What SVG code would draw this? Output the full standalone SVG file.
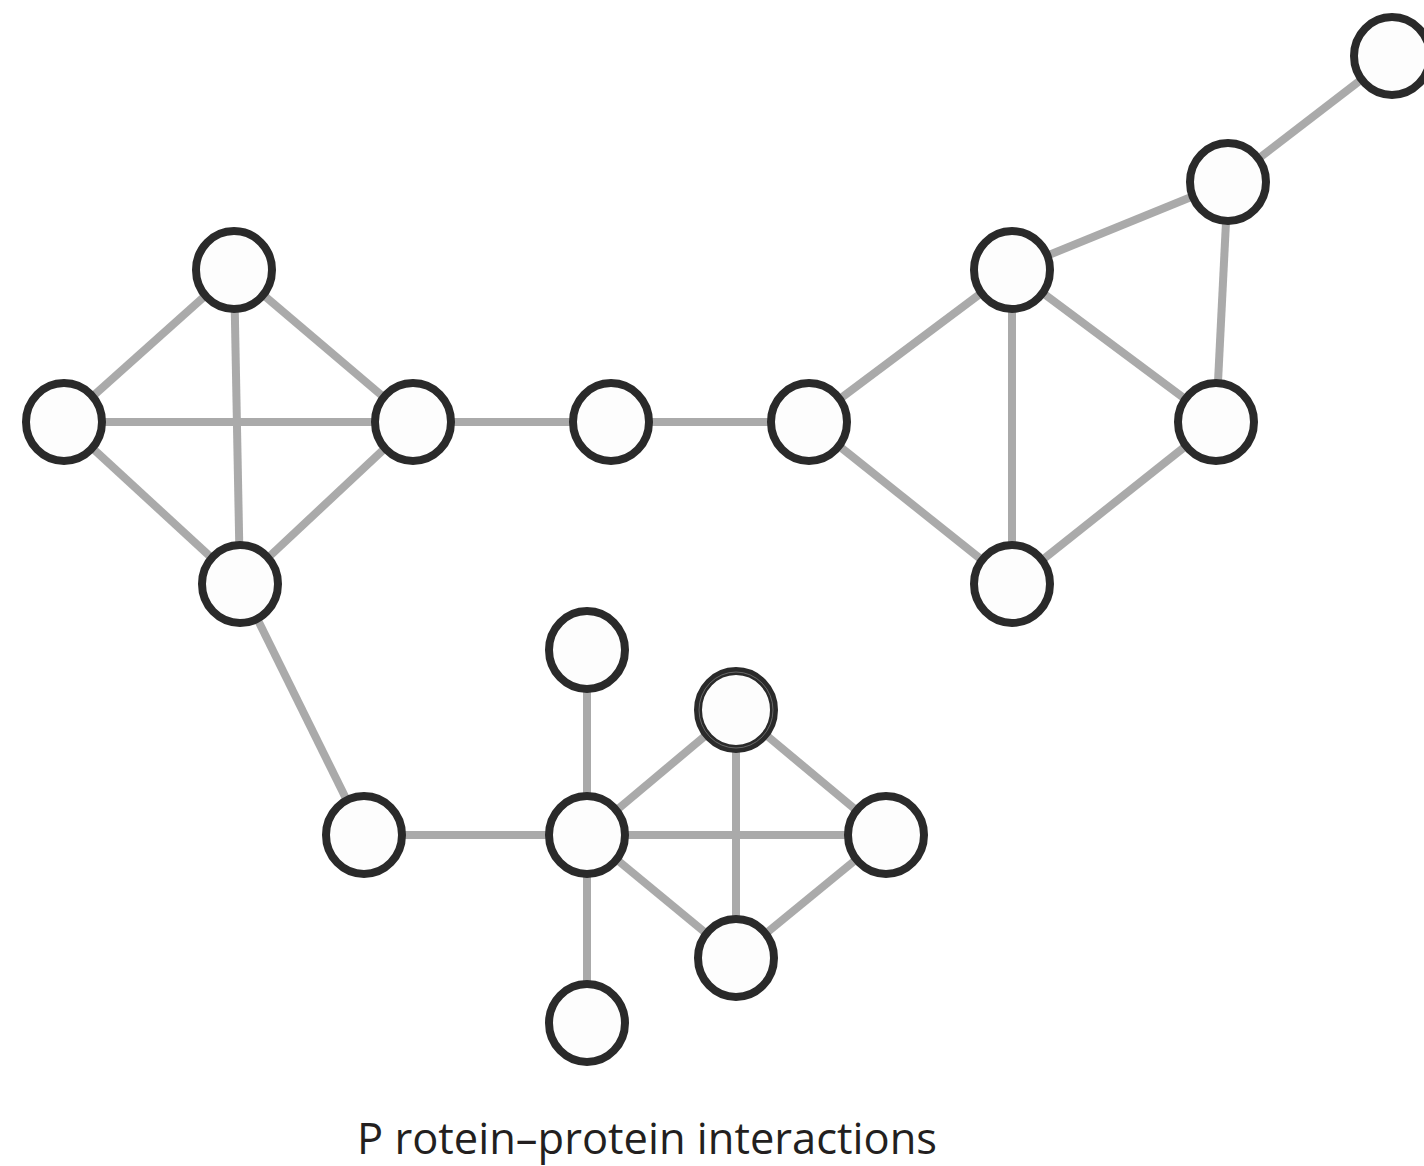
<svg xmlns="http://www.w3.org/2000/svg" width="1424" height="1166" viewBox="0 0 1424 1166">
<style>
.e{stroke:#aaaaaa;stroke-width:8;fill:none}
.n{fill:#fdfdfd;stroke:#2a2a2a;stroke-width:8}
.t{font-family:"Open Sans","Noto Sans",sans-serif;font-size:43px;font-weight:500;fill:#231f20}
</style>
<rect width="1424" height="1166" fill="#ffffff"/>
<g id="connectors">
<line class="e" x1="234" y1="270" x2="64" y2="422"/>
<line class="e" x1="234" y1="270" x2="413" y2="422"/>
<line class="e" x1="234" y1="270" x2="240" y2="584"/>
<line class="e" x1="64" y1="422" x2="413" y2="422"/>
<line class="e" x1="64" y1="422" x2="240" y2="584"/>
<line class="e" x1="413" y1="422" x2="240" y2="584"/>
<line class="e" x1="413" y1="422" x2="611" y2="422"/>
<line class="e" x1="611" y1="422" x2="809" y2="422"/>
<line class="e" x1="240" y1="584" x2="364" y2="835"/>
<line class="e" x1="809" y1="422" x2="1012" y2="270"/>
<line class="e" x1="809" y1="422" x2="1012" y2="584"/>
<line class="e" x1="1012" y1="270" x2="1012" y2="584"/>
<line class="e" x1="1012" y1="270" x2="1216" y2="422"/>
<line class="e" x1="1012" y1="270" x2="1228" y2="182"/>
<line class="e" x1="1228" y1="182" x2="1216" y2="422"/>
<line class="e" x1="1216" y1="422" x2="1012" y2="584"/>
<line class="e" x1="1228" y1="182" x2="1392" y2="56"/>
<line class="e" x1="364" y1="835" x2="587" y2="835"/>
<line class="e" x1="587" y1="650" x2="587" y2="835"/>
<line class="e" x1="587" y1="835" x2="587" y2="1023"/>
<line class="e" x1="587" y1="835" x2="736" y2="710"/>
<line class="e" x1="587" y1="835" x2="886" y2="835"/>
<line class="e" x1="587" y1="835" x2="736" y2="958"/>
<line class="e" x1="736" y1="710" x2="736" y2="958"/>
<line class="e" x1="736" y1="710" x2="886" y2="835"/>
<line class="e" x1="886" y1="835" x2="736" y2="958"/>
</g>
<g id="n1"><ellipse class="n" cx="234" cy="270" rx="38" ry="39"/></g>
<g id="n2"><ellipse class="n" cx="64" cy="422" rx="38" ry="39"/></g>
<g id="n3"><ellipse class="n" cx="413" cy="422" rx="38" ry="39"/></g>
<g id="n4"><ellipse class="n" cx="240" cy="584" rx="38" ry="39"/></g>
<g id="n5"><ellipse class="n" cx="611" cy="422" rx="38" ry="39"/></g>
<g id="n6"><ellipse class="n" cx="809" cy="422" rx="38" ry="39"/></g>
<g id="n7"><ellipse class="n" cx="1012" cy="270" rx="38" ry="39"/></g>
<g id="n8"><ellipse class="n" cx="1216" cy="422" rx="38" ry="39"/></g>
<g id="n9"><ellipse class="n" cx="1012" cy="584" rx="38" ry="39"/></g>
<g id="n10"><ellipse class="n" cx="1228" cy="182" rx="38" ry="39"/></g>
<g id="n11"><ellipse class="n" cx="1392" cy="56" rx="38" ry="39"/></g>
<g id="n12"><ellipse class="n" cx="587" cy="650" rx="38" ry="39"/></g>
<g id="n13"><ellipse class="n" cx="736" cy="710" rx="38" ry="39"/><ellipse cx="736" cy="710" rx="37" ry="38" fill="none" stroke="#777" stroke-width="0.8"/></g>
<g id="n14"><ellipse class="n" cx="364" cy="835" rx="38" ry="39"/></g>
<g id="n15"><ellipse class="n" cx="587" cy="835" rx="38" ry="39"/></g>
<g id="n16"><ellipse class="n" cx="886" cy="835" rx="38" ry="39"/></g>
<g id="n17"><ellipse class="n" cx="736" cy="958" rx="38" ry="39"/></g>
<g id="n18"><ellipse class="n" cx="587" cy="1023" rx="38" ry="39"/></g>
<text class="t" x="357" y="1154" textLength="580" lengthAdjust="spacingAndGlyphs">P rotein–protein interactions</text>
</svg>
